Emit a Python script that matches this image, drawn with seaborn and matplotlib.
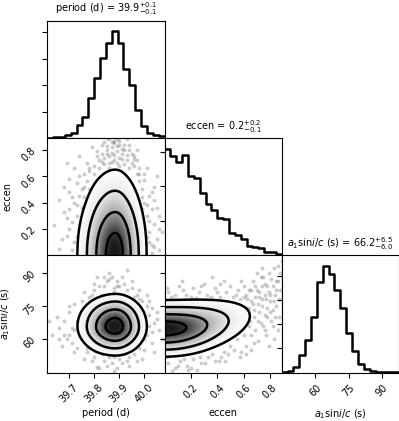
import numpy as np
import pandas as pd
import matplotlib
matplotlib.use("Agg")
import matplotlib.pyplot as plt
from matplotlib.colors import LinearSegmentedColormap
from matplotlib.ticker import MaxNLocator
import seaborn as sns

plt.rcParams["font.size"] = 7

# parameter names and titles
labels = ["period (d)", "eccen", r"$a_1\mathrm{sin}i/c$ (s)"]
titles = [r"period (d) = $39.9_{-0.1}^{+0.1}$",
          r"eccen = $0.2_{-0.1}^{+0.2}$",
          r"$a_1\mathrm{sin}i/c$ (s) = $66.2_{-6.0}^{+6.5}$"]

period_range = (39.613, 40.082)
eccen_range = (0.0, 0.89)
a1_range = (44.8, 97.8)

period_ticks = [39.7, 39.8, 39.9, 40.0]
period_ticklabels = ["39.7", "39.8", "39.9", "40.0"]
eccen_ticks = [0.2, 0.4, 0.6, 0.8]
eccen_ticklabels = ["0.2", "0.4", "0.6", "0.8"]
a1_ticks = [60, 75, 90]
a1_ticklabels = ["60", "75", "90"]

# 1d histograms (20 bins over each range)
period_counts = [2, 4, 8, 15, 30, 72, 120, 225, 339, 457, 539, 606, 541, 391, 301, 158, 69, 30, 19, 11]
eccen_counts = [463, 431, 404, 434, 345, 334, 269, 221, 198, 162, 157, 96, 88, 69, 40, 37, 32, 15, 13, 4]
a1_counts = [1, 8, 33, 112, 206, 349, 562, 664, 612, 516, 404, 245, 133, 54, 23, 12, 6, 4, 2, 1]

# coarse 2d density grids (rows = y values, cols = x values)
grid_period = [39.70, 39.74, 39.78, 39.82, 39.86, 39.90, 39.94, 39.98, 40.02]
grid_eccen = [0.05, 0.15, 0.25, 0.35, 0.45, 0.55, 0.65, 0.75, 0.85]
grid_a1 = [48, 52, 56, 60, 64, 68, 72, 76, 80, 84, 88]

# eccen (rows) vs period (cols)
dens_eccen_period = [
    [3, 12, 30, 60, 84, 90, 57, 24, 6],
    [3, 12, 29, 58, 81, 87, 55, 23, 6],
    [2, 9, 23, 46, 64, 69, 44, 18, 5],
    [2, 6, 15, 30, 42, 45, 29, 12, 3],
    [1, 4, 11, 22, 31, 33, 21, 9, 2],
    [1, 2, 6, 12, 17, 18, 11, 5, 1],
    [0, 1, 3, 6, 8, 9, 6, 2, 1],
    [0, 1, 2, 3, 5, 5, 3, 1, 0],
    [0, 0, 1, 1, 1, 2, 1, 0, 0],
]
# a1 (rows) vs period (cols)
dens_a1_period = [
    [0, 0, 0, 1, 1, 1, 1, 0, 0],
    [0, 1, 3, 5, 7, 8, 5, 2, 1],
    [1, 4, 10, 20, 27, 29, 19, 8, 2],
    [2, 8, 21, 41, 58, 62, 39, 17, 4],
    [3, 13, 33, 67, 93, 100, 63, 27, 7],
    [3, 12, 31, 61, 86, 92, 58, 25, 6],
    [2, 9, 23, 45, 63, 68, 43, 18, 5],
    [1, 4, 11, 22, 31, 34, 21, 9, 2],
    [0, 1, 4, 7, 10, 11, 7, 3, 1],
    [0, 0, 1, 2, 3, 3, 2, 1, 0],
    [0, 0, 0, 1, 1, 1, 1, 0, 0],
]
# a1 (rows) vs eccen (cols)
dens_a1_eccen = [
    [2, 1, 1, 0, 0, 0, 0, 0, 0],
    [9, 7, 4, 2, 1, 0, 0, 0, 0],
    [31, 26, 16, 7, 3, 1, 0, 0, 0],
    [67, 60, 40, 22, 11, 4, 1, 0, 0],
    [90, 86, 65, 39, 24, 11, 3, 1, 0],
    [75, 76, 65, 44, 33, 17, 7, 2, 1],
    [39, 42, 40, 31, 28, 17, 9, 4, 1],
    [13, 14, 16, 14, 14, 11, 7, 5, 1],
    [3, 3, 4, 4, 5, 4, 3, 4, 1],
    [0, 0, 1, 1, 1, 1, 1, 2, 1],
    [0, 0, 0, 0, 0, 0, 0, 0, 0],
]

# stray samples outside the outer contour
pe_period = [39.84, 39.86, 39.88, 39.90, 39.92, 39.87, 39.85, 39.89, 39.91, 39.94, 39.83, 39.86, 39.90,
             39.93, 39.96, 39.82, 39.87, 39.95, 39.80, 39.84, 39.92, 39.98, 39.78, 39.88, 39.85, 39.93,
             39.69, 39.72, 39.74, 39.76, 39.73, 39.76, 39.70, 39.74, 39.77, 39.72, 39.75, 39.68, 39.73,
             39.71, 39.74, 39.69, 39.72, 39.74, 39.64, 39.67, 39.78, 39.70,
             39.98, 40.00, 39.99, 40.02, 40.00, 40.03, 40.01, 40.04, 40.02, 40.05, 40.03, 40.06, 40.01,
             40.04, 40.06, 39.97, 40.05,
             39.83, 39.87, 39.89, 39.91, 39.84, 39.88, 39.90, 39.86, 39.93, 39.81, 39.95, 39.89, 39.82,
             39.94, 39.97, 39.80, 39.76, 39.78, 39.77, 39.75, 39.76, 39.73, 39.75, 39.71, 39.70, 39.66,
             39.68, 39.99, 40.01, 39.99, 40.02, 40.01, 40.03, 40.00, 39.98, 40.04, 40.07,
             39.85, 39.87, 39.90, 39.92, 39.88, 39.85, 39.83, 39.96, 39.94, 39.81, 39.89, 39.91, 39.86,
             39.75, 39.71, 39.69, 39.66, 39.70, 39.73, 39.77, 39.74, 39.79,
             40.00, 40.03, 40.05, 40.02, 40.04, 39.96, 40.06, 39.97]
pe_eccen = [0.86, 0.88, 0.85, 0.87, 0.84, 0.82, 0.80, 0.79, 0.81, 0.80, 0.77, 0.75, 0.74,
            0.76, 0.73, 0.72, 0.71, 0.70, 0.68, 0.69, 0.69, 0.66, 0.64, 0.87, 0.83, 0.88,
            0.70, 0.66, 0.60, 0.62, 0.55, 0.52, 0.48, 0.45, 0.56, 0.40, 0.36, 0.33, 0.30,
            0.25, 0.20, 0.15, 0.10, 0.06, 0.23, 0.12, 0.66, 0.58,
            0.62, 0.57, 0.50, 0.45, 0.40, 0.35, 0.30, 0.24, 0.18, 0.12, 0.08, 0.04, 0.66,
            0.52, 0.30, 0.72, 0.60,
            0.84, 0.78, 0.83, 0.77, 0.74, 0.72, 0.68, 0.70, 0.72, 0.79, 0.77, 0.88, 0.66,
            0.66, 0.62, 0.62, 0.44, 0.50, 0.40, 0.28, 0.16, 0.14, 0.08, 0.04, 0.35, 0.42,
            0.52, 0.44, 0.38, 0.35, 0.26, 0.14, 0.02, 0.22, 0.56, 0.42, 0.18,
            0.89, 0.86, 0.84, 0.80, 0.76, 0.77, 0.71, 0.75, 0.84, 0.75, 0.70, 0.73, 0.66,
            0.50, 0.44, 0.28, 0.05, 0.20, 0.38, 0.70, 0.75, 0.82,
            0.62, 0.48, 0.36, 0.10, 0.06, 0.68, 0.20, 0.80]

pa_period = [39.86, 39.89, 39.84, 39.92, 39.88, 39.95, 39.80, 39.91, 39.83, 39.97, 39.86, 39.78, 39.99,
             39.75, 39.93, 39.72, 39.70, 39.68, 39.72, 39.69, 39.66, 39.73, 39.71, 39.65, 39.63, 39.74,
             39.67, 40.01, 40.02, 40.04, 40.01, 40.03, 40.00, 40.06, 40.05, 40.02, 40.07, 39.80, 39.84,
             39.87, 39.90, 39.93, 39.96, 39.77, 39.82, 39.89, 39.99, 39.86, 39.94,
             39.82, 39.88, 39.93, 39.79, 39.85, 39.96, 39.77, 39.75, 39.74, 39.75, 39.77, 39.73, 39.71,
             39.70, 40.00, 40.02, 40.00, 39.98, 40.03, 39.98, 39.83, 39.88, 39.92, 39.85, 39.91, 39.79,
             39.90, 39.87, 39.81,
             39.84, 39.89, 39.95, 39.80, 39.92, 39.98, 39.76, 39.70, 39.68, 39.72, 39.66, 39.62,
             40.03, 40.05, 40.01, 40.04, 39.97, 39.88, 39.81, 39.76, 39.94, 39.86, 39.99, 39.74]
pa_a1 = [87, 86, 84, 85, 83, 83, 82, 88, 80, 80, 90, 79, 77,
         77, 91, 76, 72, 68, 64, 60, 65, 56, 58, 70, 62, 70,
         57, 75, 71, 67, 62, 58, 55, 64, 72, 77, 60, 52, 50,
         49, 51, 50, 53, 54, 47, 47, 51, 52, 48,
         84, 81, 82, 80, 86, 79, 75, 72, 66, 60, 56, 68, 65,
         62, 70, 66, 60, 56, 74, 78, 53, 52, 53, 48, 49, 50,
         84, 88, 88,
         88, 84, 86, 85, 80, 82, 81, 75, 62, 54, 60, 68,
         63, 69, 80, 54, 50, 45.5, 47.5, 51, 52, 54, 62, 62]

ea_eccen = [0.08, 0.14, 0.20, 0.26, 0.32, 0.38, 0.42, 0.47, 0.52, 0.56, 0.11, 0.30, 0.45, 0.03, 0.24, 0.60,
            0.62, 0.66, 0.68, 0.70, 0.72, 0.74, 0.76, 0.78, 0.80, 0.82, 0.84, 0.86, 0.88, 0.65, 0.69,
            0.73, 0.77, 0.81, 0.85, 0.87, 0.67, 0.75, 0.83, 0.71, 0.79, 0.64, 0.89, 0.60, 0.62, 0.76,
            0.55, 0.50, 0.58, 0.45, 0.66,
            0.03, 0.08, 0.12, 0.17, 0.22, 0.28, 0.33, 0.38, 0.43, 0.06, 0.25, 0.48,
            0.63, 0.66, 0.69, 0.71, 0.74, 0.77, 0.79, 0.82, 0.85, 0.87, 0.68, 0.72, 0.75, 0.80,
            0.84, 0.86, 0.78, 0.73, 0.81, 0.70, 0.64, 0.66, 0.83, 0.60, 0.57,
            0.05, 0.16, 0.22, 0.35, 0.40, 0.50, 0.54,
            0.10, 0.20, 0.31, 0.36, 0.41, 0.53, 0.15,
            0.62, 0.64, 0.67, 0.69, 0.72, 0.74, 0.76, 0.78, 0.80, 0.83, 0.85, 0.88, 0.71, 0.76,
            0.82, 0.68, 0.79, 0.86, 0.74,
            0.02, 0.13, 0.28, 0.42, 0.58, 0.36,
            0.02, 0.18, 0.27, 0.46, 0.57, 0.62]
ea_a1 = [80, 82, 79, 81, 80, 83, 79, 81, 79, 82, 84, 85, 86, 81, 78.5, 84,
         80, 77, 73, 82, 79, 75, 71, 84, 77, 73, 80, 86, 90, 68, 64,
         67, 62, 68, 75, 70, 86, 88, 92, 59, 57, 74, 95, 62, 57, 80,
         60, 57, 54, 54, 55,
         49, 47, 50, 48, 51, 49, 52, 50, 52, 45.5, 46, 53,
         78, 82, 79, 76, 84, 78, 81, 84, 82, 78, 70, 72, 66, 72,
         70, 64, 74, 88, 87, 90, 66, 62, 60, 79, 78,
         79, 80, 83, 79, 81, 84, 80,
         48, 47, 49, 53, 50, 55, 51,
         74, 82, 76, 84, 81, 78, 85, 70, 80, 77, 86, 82, 68, 64,
         66, 58, 90, 93, 92,
         83, 86, 84, 85, 86, 88,
         52, 46, 52, 50, 52, 53]

# levels enclosing 86.5, 67.5, 39.3, 11.8 % of the mass
contour_levels = [0.135, 0.325, 0.607, 0.882]
density_cmap = LinearSegmentedColormap.from_list(
    "dens", ["#fdfdfd", "#f2f2f2", "#e4e4e4", "#cdcdcd", "#b3b3b3", "#8e8e8e", "#666666", "#3c3c3c", "#141414"])

fig = plt.figure(figsize=(3.99, 4.21), dpi=100)
x0, y0 = 0.1185, 0.1150
pw, ph = 0.2938, 0.2786


def panel(row, col):
    return fig.add_axes([x0 + col * pw, y0 + (2 - row) * ph, pw, ph])


def draw_hist(ax, rng, counts, ticks):
    edges = np.linspace(rng[0], rng[1], len(counts) + 1)
    hist_df = pd.DataFrame({"x": 0.5 * (edges[1:] + edges[:-1]), "n": counts})
    sns.histplot(data=hist_df, x="x", weights="n", bins=list(edges), element="step",
                 fill=False, color="k", linewidth=1.8, ax=ax)
    ax.set_xlim(rng)
    ax.set_ylim(0, 1.1 * max(counts))
    ax.yaxis.set_major_locator(MaxNLocator(5, prune="lower"))
    ax.set_xticks(ticks)
    ax.tick_params(labelleft=False, labelbottom=False)
    ax.set_xlabel("")
    ax.set_ylabel("")


def draw_2d(ax, gx, gy, dens, px, py, xr, yr, mirror=None):
    xx, yy = np.meshgrid(gx, gy)
    df = pd.DataFrame({"x": xx.ravel(), "y": yy.ravel(),
                       "w": np.asarray(dens, float).ravel()})
    df = df[df["w"] > 0]
    # reflect about the hard edge at zero so the density does not leak away
    if mirror is not None:
        flipped = df.copy()
        flipped[mirror] = -flipped[mirror]
        df = pd.concat([df, flipped], ignore_index=True)
    sns.scatterplot(x=px, y=py, s=8, color="k", alpha=0.2, linewidth=0, ax=ax)
    sns.kdeplot(data=df, x="x", y="y", weights="w", fill=True,
                levels=list(np.linspace(0.135, 1, 30)), cmap=density_cmap,
                bw_method=0.42, ax=ax)
    sns.kdeplot(data=df, x="x", y="y", weights="w", levels=contour_levels,
                colors="k", linewidths=1.8, bw_method=0.42, ax=ax)
    ax.set_xlim(xr)
    ax.set_ylim(yr)
    ax.set_xlabel("")
    ax.set_ylabel("")


# row 0
ax = panel(0, 0)
draw_hist(ax, period_range, period_counts, period_ticks)
ax.set_title(titles[0], fontsize=7)

# row 1
ax = panel(1, 0)
draw_2d(ax, grid_period, grid_eccen, dens_eccen_period, pe_period, pe_eccen,
        period_range, eccen_range, mirror="y")
ax.set_xticks(period_ticks)
ax.set_yticks(eccen_ticks, labels=eccen_ticklabels, rotation=45)
ax.tick_params(labelbottom=False)
ax.set_ylabel(labels[1], fontsize=7)
ax.yaxis.set_label_coords(-0.3, 0.5)

ax = panel(1, 1)
draw_hist(ax, eccen_range, eccen_counts, eccen_ticks)
ax.set_title(titles[1], fontsize=7)

# row 2
ax = panel(2, 0)
draw_2d(ax, grid_period, grid_a1, dens_a1_period, pa_period, pa_a1, period_range, a1_range)
ax.set_xticks(period_ticks, labels=period_ticklabels, rotation=45)
ax.set_yticks(a1_ticks, labels=a1_ticklabels, rotation=45)
ax.set_xlabel(labels[0], fontsize=7)
ax.set_ylabel(labels[2], fontsize=7)
ax.xaxis.set_label_coords(0.5, -0.3)
ax.yaxis.set_label_coords(-0.3, 0.5)

ax = panel(2, 1)
draw_2d(ax, grid_eccen, grid_a1, dens_a1_eccen, ea_eccen, ea_a1,
        eccen_range, a1_range, mirror="x")
ax.set_xticks(eccen_ticks, labels=eccen_ticklabels, rotation=45)
ax.set_yticks(a1_ticks)
ax.tick_params(labelleft=False)
ax.set_xlabel(labels[1], fontsize=7)
ax.xaxis.set_label_coords(0.5, -0.3)

ax = panel(2, 2)
draw_hist(ax, a1_range, a1_counts, a1_ticks)
ax.set_xticks(a1_ticks, labels=a1_ticklabels, rotation=45)
ax.tick_params(labelbottom=True)
ax.set_xlabel(labels[2], fontsize=7)
ax.xaxis.set_label_coords(0.5, -0.3)
ax.set_title(titles[2], fontsize=7)

fig.savefig("out.png", dpi=100)
